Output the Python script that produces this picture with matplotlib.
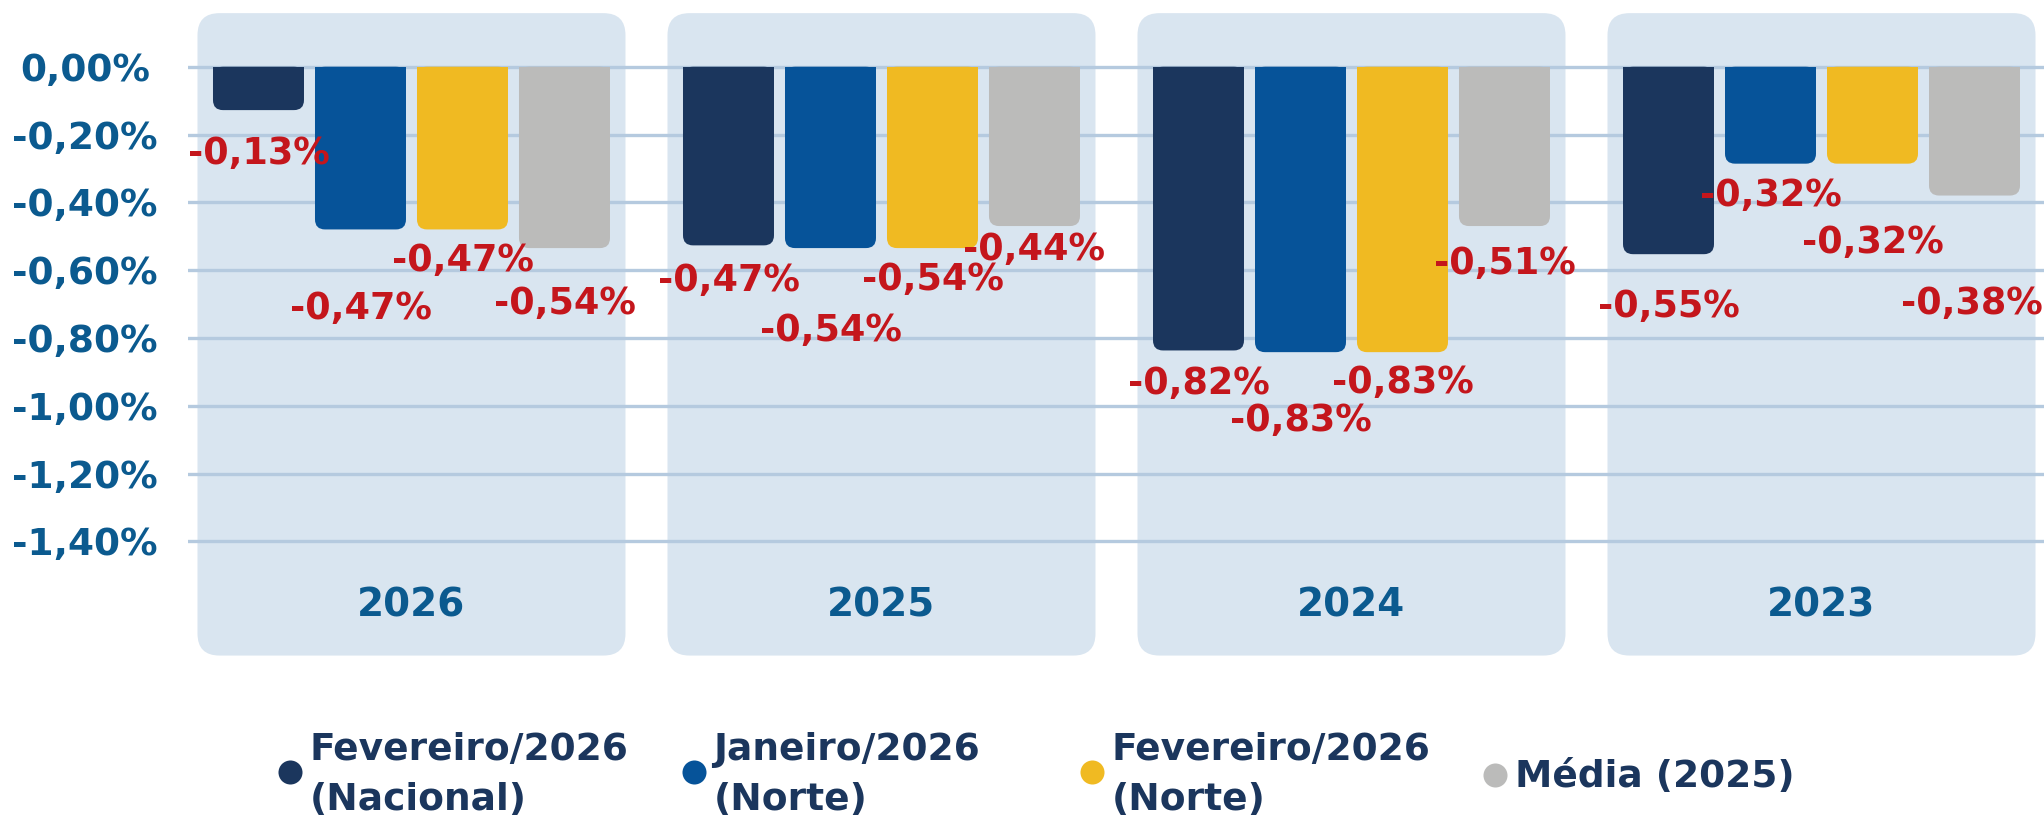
import matplotlib
matplotlib.use("Agg")
import matplotlib.pyplot as plt
from matplotlib.patches import FancyBboxPatch, Rectangle
from matplotlib.lines import Line2D

# data
years = ["2026", "2025", "2024", "2023"]
series_names = ["Fevereiro/2026\n(Nacional)", "Janeiro/2026\n(Norte)",
                "Fevereiro/2026\n(Norte)", "Média (2025)"]
nacional = [-0.128, -0.527, -0.837, -0.553]
janeiro_norte = [-0.48, -0.535, -0.842, -0.286]
fevereiro_norte = [-0.48, -0.535, -0.842, -0.286]
media_2025 = [-0.535, -0.47, -0.47, -0.38]
label_nacional = ["-0,13%", "-0,47%", "-0,82%", "-0,55%"]
label_janeiro = ["-0,47%", "-0,54%", "-0,83%", "-0,32%"]
label_fevereiro = ["-0,47%", "-0,54%", "-0,83%", "-0,32%"]
label_media = ["-0,54%", "-0,44%", "-0,51%", "-0,38%"]
yticks = [0, -0.2, -0.4, -0.6, -0.8, -1.0, -1.2, -1.4]
ytick_labels = ["0,00%", "-0,20%", "-0,40%", "-0,60%", "-0,80%", "-1,00%", "-1,20%", "-1,40%"]

series = [nacional, janeiro_norte, fevereiro_norte, media_2025]
labels = [label_nacional, label_janeiro, label_fevereiro, label_media]
colors = ["#1B365D", "#065399", "#F0BA22", "#BBBBBA"]

# label placement below each bar end (pixels), per series / per year
label_gap = [[41, 32, 30, 50],
             [76, 80, 66, 29],
             [28, 29, 28, 76],
             [53, 21, 35, 105]]

W, H, DPI = 2044, 815, 100
plt.rcParams["font.family"] = "DejaVu Sans"
fig = plt.figure(figsize=(W / DPI, H / DPI), dpi=DPI)
ax = fig.add_axes([188 / W, (H - 660) / H, (W - 188) / W, 660 / H])
ax.set_xlim(-0.4755, 3.4734)
ax.set_ylim(-1.7501, 0.1968)
for s in ax.spines.values():
    s.set_visible(False)
ax.set_xticks([])

px_x = (W - 188) / (3.4734 + 0.4755)   # pixels per x unit
px_y = 660 / (0.1968 + 1.7501)         # pixels per y unit
aspect = px_x / px_y

step = 102 / px_x
bar_w = 91 / px_x

# background panels
for g in range(len(years)):
    half = 214 / px_x
    panel = FancyBboxPatch((g - half, -1.737), 2 * half, 1.737 + 0.158,
                           boxstyle=f"round,pad=0,rounding_size={22 / px_x}",
                           mutation_aspect=aspect, fc="#D9E5F0", ec="none", zorder=0)
    ax.add_patch(panel)
    ax.text(g, -1.579, years[g], ha="center", va="center_baseline",
            fontsize=28, fontweight="bold", color="#0B5A8F", zorder=4)

# grid
for t in yticks:
    ax.axhline(t, color="#B5CADF", lw=2.4, zorder=1)

# bars + value labels
val_fs = 26.3
half_digit = 0.729 * val_fs * DPI / 72 / 2
for i, vals in enumerate(series):
    for g, v in enumerate(vals):
        x = g + (i - 1.5) * step
        r = 10 / px_x
        ax.add_patch(FancyBboxPatch((x - bar_w / 2, v), bar_w, -v,
                                    boxstyle=f"round,pad=0,rounding_size={r}",
                                    mutation_aspect=aspect, fc=colors[i], ec="none", zorder=2))
        ax.add_patch(Rectangle((x - bar_w / 2, v / 2), bar_w, -v / 2,
                               fc=colors[i], ec="none", zorder=2))
        off = -(label_gap[i][g] + half_digit) * 72 / DPI
        ax.annotate(labels[i][g], (x, v), xytext=(-2 if g == 3 and i == 3 else 0, off),
                    textcoords="offset points",
                    ha="center", va="baseline", fontsize=val_fs, fontweight="bold",
                    color="#C4161C", zorder=5)

ax.set_yticks(yticks)
ax.set_yticklabels(ytick_labels, fontsize=27, fontweight="bold", color="#0B5A8F")
for lab in ax.get_yticklabels():
    lab.set_horizontalalignment("center")
ax.tick_params(axis="y", length=0, pad=103 * 72 / DPI)

# legend
legend_x = [289.5, 693.5, 1091.5, 1494.5]
for i, name in enumerate(series_names):
    lines = name.split("\n")
    mx = legend_x[i]
    my = 772 if len(lines) > 1 else 775
    fig.add_artist(Line2D([mx / W], [1 - my / H], marker="o", ms=17.3, color=colors[i],
                          mec="none", transform=fig.transFigure))
    if len(lines) > 1:
        ys = [760, 810]
    else:
        ys = [787]
    for ln, yb in zip(lines, ys):
        fig.text((mx + 20) / W, 1 - yb / H, ln, ha="left", va="baseline",
                 fontsize=27, fontweight="bold", color="#1B365D")

fig.savefig("out.png", dpi=DPI)
